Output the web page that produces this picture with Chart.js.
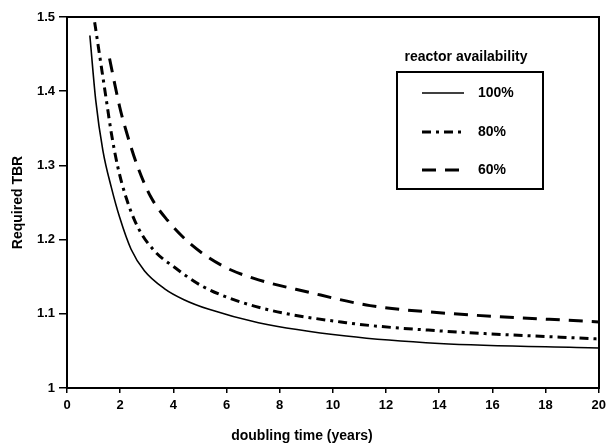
<!DOCTYPE html>
<html>
<head>
<meta charset="utf-8">
<script src="https://cdn.jsdelivr.net/npm/chart.js@4.4.1/dist/chart.umd.min.js"></script>
<style>
  html, body { margin: 0; padding: 0; background: #fff; }
  #wrap { width: 611px; height: 447px; }
</style>
</head>
<body>
<div id="wrap"><canvas id="tbr_Chart" width="611" height="447"></canvas></div>
<script>
// doubling time (years) / required TBR
const t_100 = [0.86, 1.08, 1.35, 1.67, 1.98, 2.41, 2.91, 3.66, 4.4, 5.34, 7.2, 10.5, 14, 20];
const tbr_100 = [1.475, 1.388, 1.320, 1.270, 1.230, 1.187, 1.158, 1.134, 1.119, 1.106, 1.088, 1.070, 1.060, 1.054];

const t_80 = [1.04, 1.48, 1.67, 1.91, 2.22, 2.66, 3.28, 4.03, 5.1, 7.08, 10.5, 14, 20];
const tbr_80 = [1.493, 1.388, 1.343, 1.298, 1.257, 1.217, 1.185, 1.163, 1.137, 1.110, 1.088, 1.077, 1.066];

const t_60 = [1.6, 1.98, 2.22, 2.66, 3.16, 3.78, 4.65, 5.83, 7.0, 9.1, 11.4, 13.8, 20];
const tbr_60 = [1.444, 1.379, 1.347, 1.298, 1.257, 1.226, 1.194, 1.165, 1.148, 1.129, 1.111, 1.102, 1.089];

const series_labels = ['100%', '80%', '60%'];
const x_ticks = [0, 2, 4, 6, 8, 10, 12, 14, 16, 18, 20];
const y_ticks = [1, 1.1, 1.2, 1.3, 1.4, 1.5];

function pts(xs, ys) {
  return xs.map((x, i) => ({ x: x, y: ys[i] }));
}

const FONT = "'Liberation Sans', Arial, sans-serif";

const dashes = [[], [9, 5, 3, 5], [14, 9]];
const widths = [1.6, 3, 3];

const data = {
  datasets: [
    { label: series_labels[0], data: pts(t_100, tbr_100) },
    { label: series_labels[1], data: pts(t_80, tbr_80) },
    { label: series_labels[2], data: pts(t_60, tbr_60) }
  ].map((d, i) => Object.assign(d, {
    borderColor: '#000',
    backgroundColor: '#000',
    borderWidth: widths[i],
    borderDash: dashes[i],
    pointRadius: 0,
    cubicInterpolationMode: 'monotone',
    fill: false
  }))
};

// legend box + x title drawn by hand so they sit where the original has them
const extras = {
  id: 'extras',
  afterDraw(chart) {
    const ctx = chart.ctx;
    ctx.save();
    ctx.fillStyle = '#000';
    ctx.strokeStyle = '#000';
    ctx.font = 'bold 14px ' + FONT;
    ctx.textBaseline = 'middle';
    ctx.textAlign = 'center';
    ctx.fillText('reactor availability', 466, 57);
    ctx.lineWidth = 2;
    ctx.setLineDash([]);
    ctx.strokeRect(397, 72, 146, 117);
    const rows = [93, 132, 170];
    ctx.textAlign = 'left';
    rows.forEach((y, i) => {
      ctx.lineWidth = widths[i];
      ctx.setLineDash(dashes[i]);
      ctx.beginPath();
      ctx.moveTo(422, y);
      ctx.lineTo(464, y);
      ctx.stroke();
      ctx.setLineDash([]);
      ctx.fillText(series_labels[i], 478, y);
    });
    ctx.textAlign = 'center';
    ctx.fillText('doubling time (years)', 302, 436);
    ctx.restore();
  }
};

const config_line = {
  type: 'line',
  data: data,
  plugins: [extras],
  options: {
    responsive: false,
    animation: false,
    layout: { padding: { top: 17, right: 8, left: 0, bottom: 0 } },
    plugins: {
      legend: { display: false },
      tooltip: { enabled: false }
    },
    scales: {
      x: {
        type: 'linear',
        min: 0,
        max: 20,
        afterBuildTicks: (s) => { s.ticks = x_ticks.map(v => ({ value: v })); },
        afterFit: (s) => { s.height = 59; },
        border: { display: true, color: '#000', width: 2 },
        grid: { drawOnChartArea: false, color: '#000', tickLength: 5, lineWidth: 1.5 },
        ticks: { color: '#000', padding: 5, font: { family: FONT, size: 13, weight: 'bold' } }
      },
      x2: {
        type: 'linear', position: 'top', min: 0, max: 20,
        border: { display: true, color: '#000', width: 2 },
        grid: { display: false }, ticks: { display: false },
        afterFit: (s) => { s.height = 0; }
      },
      y: {
        min: 1,
        max: 1.5,
        afterBuildTicks: (s) => { s.ticks = y_ticks.map(v => ({ value: v })); },
        afterFit: (s) => { s.width = 67; },
        border: { display: true, color: '#000', width: 2 },
        grid: { drawOnChartArea: false, color: '#000', tickLength: 8, lineWidth: 1.5 },
        ticks: {
          color: '#000', padding: 4,
          font: { family: FONT, size: 13, weight: 'bold' },
          callback: (v) => String(Math.round(v * 10) / 10)
        },
        title: {
          display: true,
          text: 'Required TBR',
          color: '#000',
          padding: { top: 10, bottom: 0 },
          font: { family: FONT, size: 14, weight: 'bold' }
        }
      },
      y2: {
        position: 'right', min: 1, max: 1.5,
        border: { display: true, color: '#000', width: 2 },
        grid: { display: false }, ticks: { display: false },
        afterFit: (s) => { s.width = 0; }
      }
    }
  }
};

let myChart = new Chart(
  document.getElementById('tbr_Chart'),
  config_line
);
</script>
</body>
</html>
